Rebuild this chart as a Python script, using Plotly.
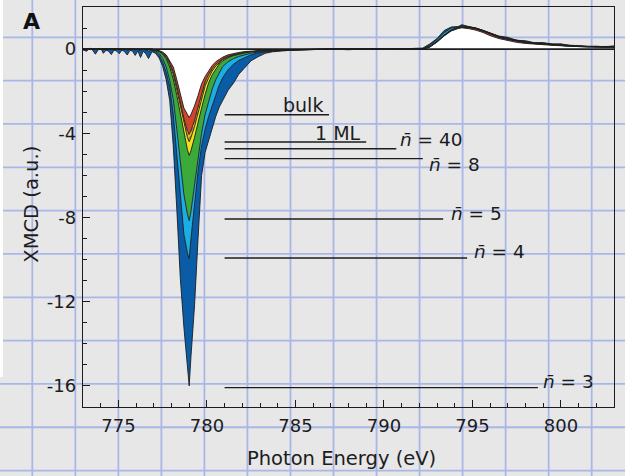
import plotly.graph_objects as go

# ---------------- data ----------------
energy = [773.0, 773.2, 773.4, 773.55, 773.7, 773.85, 774.0, 774.15, 774.3, 774.45,
          774.6, 774.75, 774.9, 775.05, 775.2, 775.35, 775.5, 775.65, 775.8, 775.95,
          776.1, 776.25, 776.4, 776.55, 776.7, 776.9,
          777.1, 777.3, 777.5, 777.7, 777.9, 778.1, 778.3, 778.5, 778.7, 778.9,
          779.0, 779.1, 779.3, 779.5, 779.7, 779.9, 780.1, 780.3, 780.5, 780.7,
          780.9, 781.2, 781.5, 781.8, 782.1, 782.5, 782.9, 783.3, 783.7, 784.2,
          784.8, 785.5, 786.3,
          787.0, 788.0, 789.0, 790.0, 791.0, 791.6, 792.2,
          792.6, 793.0, 793.4, 793.8, 794.2, 794.4, 794.8, 795.2, 795.6, 796.0,
          796.5, 797.0, 797.5, 798.0, 798.5, 799.0, 799.5, 800.0, 800.5, 801.0,
          801.5, 802.0, 802.5, 803.0]

xmcd_bulk = [0, 0, 0, 0, 0, 0, 0, 0, 0, 0, 0, 0, 0, 0, 0, 0, 0, 0, 0, 0, 0, 0, 0, 0, 0, 0,
             -0.03, -0.07, -0.14, -0.27, -0.55, -0.85, -1.45, -2.15, -2.8, -3.1,
             -3.25, -3.1, -2.7, -2.2, -1.65, -1.3, -1.05, -0.78, -0.6, -0.48,
             -0.38, -0.27, -0.2, -0.16, -0.12, -0.09, -0.07, -0.05, -0.04, -0.03,
             -0.02, -0.01, 0.0,
             0, 0, 0, 0, 0, 0, 0,
             0.1, 0.33, 0.62, 0.86, 0.98, 1.01, 0.97, 0.9, 0.79, 0.64,
             0.5, 0.4, 0.32, 0.27, 0.23, 0.2, 0.18, 0.16, 0.13, 0.11,
             0.1, 0.1, 0.09, 0.1]

xmcd_1ml = [0, 0, 0, 0, 0, 0, 0, 0, 0, 0, 0, 0, 0, 0, 0, 0, 0, 0, 0, 0, 0, 0, 0, 0, 0, 0,
            -0.04, -0.09, -0.18, -0.35, -0.66, -1.08, -1.75, -2.5, -3.3, -3.88,
            -4.05, -3.88, -3.4, -2.75, -2.1, -1.55, -1.2, -0.92, -0.72, -0.57,
            -0.46, -0.34, -0.26, -0.2, -0.15, -0.11, -0.08, -0.06, -0.05, -0.04,
            -0.025, -0.012, 0.0,
            0, 0, 0, 0, 0, 0, 0,
            0.11, 0.35, 0.64, 0.88, 1.0, 1.04, 1.02, 0.96, 0.85, 0.71,
            0.56, 0.46, 0.37, 0.31, 0.26, 0.22, 0.2, 0.17, 0.14, 0.12,
            0.11, 0.1, 0.1, 0.1]

xmcd_n40 = [0, 0, 0, 0, 0, 0, 0, 0, 0, 0, 0, 0, 0, 0, 0, 0, 0, 0, 0, 0, 0, 0, 0, 0, 0, 0,
            -0.045, -0.1, -0.2, -0.39, -0.73, -1.2, -1.93, -2.72, -3.55, -4.2,
            -4.4, -4.2, -3.68, -3.0, -2.35, -1.75, -1.36, -1.04, -0.8, -0.63,
            -0.5, -0.37, -0.28, -0.22, -0.17, -0.12, -0.09, -0.07, -0.055, -0.042,
            -0.028, -0.014, 0.0,
            0, 0, 0, 0, 0, 0, 0,
            0.11, 0.35, 0.65, 0.89, 1.01, 1.05, 1.03, 0.97, 0.86, 0.72,
            0.57, 0.47, 0.38, 0.32, 0.27, 0.23, 0.2, 0.17, 0.14, 0.12,
            0.11, 0.1, 0.1, 0.1]

xmcd_n8 = [0, 0, 0, 0, 0, 0, 0, 0, 0, 0, 0, 0, 0, 0, 0, 0, 0, 0, 0, 0, 0, 0, 0, 0, 0, 0,
           -0.05, -0.12, -0.24, -0.46, -0.85, -1.42, -2.2, -3.1, -4.0, -4.78,
           -5.05, -4.82, -4.2, -3.45, -2.8, -2.15, -1.6, -1.22, -0.93, -0.7,
           -0.56, -0.41, -0.31, -0.24, -0.19, -0.13, -0.1, -0.08, -0.06, -0.045,
           -0.03, -0.015, 0.0,
           0, 0, 0, 0, 0, 0, 0,
           0.12, 0.36, 0.66, 0.9, 1.02, 1.06, 1.04, 0.98, 0.87, 0.73,
           0.58, 0.48, 0.39, 0.33, 0.28, 0.24, 0.21, 0.18, 0.15, 0.13,
           0.11, 0.1, 0.1, 0.1]

xmcd_n5 = [0, 0, 0, 0, 0, 0, 0, 0, 0, 0, 0, 0, 0, 0, 0, 0, 0, 0, 0, 0, 0, 0, 0, 0, 0, -0.02,
           -0.08, -0.2, -0.45, -0.85, -1.5, -2.4, -3.8, -5.5, -6.9, -7.85,
           -8.15, -7.7, -6.5, -5.2, -4.0, -3.1, -2.45, -1.9, -1.45, -1.1,
           -0.82, -0.6, -0.45, -0.35, -0.27, -0.19, -0.14, -0.1, -0.08, -0.06,
           -0.04, -0.02, 0.0,
           0, 0, 0, 0, 0, 0, 0,
           0.13, 0.38, 0.68, 0.92, 1.03, 1.07, 1.05, 0.99, 0.88, 0.74,
           0.59, 0.49, 0.4, 0.34, 0.29, 0.25, 0.22, 0.19, 0.16, 0.14,
           0.12, 0.11, 0.1, 0.11]

xmcd_n4 = [0, 0, 0, 0, -0.02, 0, 0, -0.02, 0, 0, -0.03, 0, 0, -0.02, 0, 0, -0.04, 0, 0, -0.05,
           0, -0.07, 0, -0.04, -0.1, -0.05,
           -0.13, -0.3, -0.62, -1.1, -1.8, -3.1, -5.0, -7.3, -8.8, -9.7,
           -9.95, -9.0, -7.4, -5.8, -4.6, -3.8, -3.2, -2.75, -2.2, -1.7,
           -1.35, -0.98, -0.72, -0.54, -0.41, -0.27, -0.18, -0.12, -0.09, -0.06,
           -0.04, -0.02, 0.0,
           0, 0, 0, 0, 0, 0, 0.02,
           0.18, 0.45, 0.78, 1.0, 1.06, 1.1, 1.06, 1.0, 0.89, 0.75,
           0.6, 0.5, 0.42, 0.35, 0.3, 0.27, 0.23, 0.2, 0.17, 0.15,
           0.13, 0.12, 0.11, 0.13]

xmcd_n3 = [-0.04, -0.1, 0.05, -0.06, -0.24, -0.04, 0.04, -0.2, -0.05, -0.1,
           -0.26, -0.05, -0.09, -0.22, -0.04, -0.12, -0.28, -0.06, -0.1, -0.3,
           -0.08, -0.4, -0.1, -0.22, -0.45, -0.12,
           -0.2, -0.42, -0.82, -1.45, -2.45, -4.6, -7.6, -10.9, -13.2, -15.2,
           -16.0, -14.6, -12.2, -9.0, -6.0, -4.9, -4.3, -3.75, -3.2, -2.75,
           -2.4, -1.95, -1.62, -1.2, -0.92, -0.55, -0.36, -0.2, -0.13, -0.08,
           -0.05, -0.03, 0.0,
           0.0, -0.03, 0.02, -0.02, 0.0, 0.03, 0.05,
           0.25, 0.5, 0.88, 1.05, 1.07, 1.16, 1.07, 1.0, 0.89, 0.77,
           0.62, 0.56, 0.42, 0.4, 0.3, 0.31, 0.24, 0.25, 0.17, 0.16,
           0.13, 0.14, 0.11, 0.15]

series_names = ["bulk", "1 ML", "n̄ = 40", "n̄ = 8", "n̄ = 5", "n̄ = 4", "n̄ = 3"]
series_values = [xmcd_bulk, xmcd_1ml, xmcd_n40, xmcd_n8, xmcd_n5, xmcd_n4, xmcd_n3]

# label guide lines: level, line end and text placement
label_levels = [-3.12, -4.41, -4.73, -5.2, -8.07, -9.92, -16.08]
label_texts = ["bulk", "1 ML", "<i>n\u0304</i> = 40", "<i>n\u0304</i> = 8",
               "<i>n\u0304</i> = 5", "<i>n\u0304</i> = 4", "<i>n\u0304</i> = 3"]

x_tick_vals = [775, 780, 785, 790, 795, 800]
x_tick_text = ["775", "780", "785", "790", "795", "800"]
y_tick_vals = [-16, -12, -8, -4, 0]
y_tick_text = ["-16", "-12", "-8", "-4", "0"]

for s in series_values:
    assert len(s) == len(energy)

# ---------------- styling ----------------
FONT = "DejaVu Sans, Liberation Sans, Arial, sans-serif"
INK = "#1c1c1c"
W, H = 625, 476
L, R, T, B = 83, 11, 7, 69
PW, PH = W - L - R, H - T - B


def pxx(px):
    return (px - L) / PW


def pxy(py):
    return (H - B - py) / PH


fills = [
    dict(fill="tozeroy", fillcolor="white"),
    dict(fill="tonexty", fillcolor="#d2442b"),
    dict(fill="tonexty", fillcolor="#e2b01e",
         fillpattern=dict(shape="/", bgcolor="#e9c21f", fgcolor="#2a2a2a", size=4, solidity=0.35)),
    dict(fill="tonexty", fillcolor="#f3e01f"),
    dict(fill="tonexty", fillcolor="#3caa3a"),
    dict(fill="tonexty", fillcolor="#19aee4"),
    dict(fill="tonexty", fillcolor="#0b5ca6"),
]

fig = go.Figure()
for name, vals, f in zip(series_names, series_values, fills):
    fig.add_trace(go.Scatter(x=energy, y=vals, mode="lines", name=name,
                             line=dict(color=INK, width=0.9), showlegend=False,
                             hoverinfo="skip", **f))

shapes = []
# graph-paper background
for k in range(14):
    xp = pxx(32.3 + 43.03 * k)
    shapes.append(dict(type="line", xref="paper", yref="paper", x0=xp, x1=xp,
                       y0=pxy(H), y1=pxy(0), layer="below",
                       line=dict(color="#a9b7e7", width=1.8)))
for k in range(11):
    yp = pxy(37.3 + 43.33 * k)
    shapes.append(dict(type="line", xref="paper", yref="paper", x0=pxx(0), x1=pxx(W),
                       y0=yp, y1=yp, layer="below",
                       line=dict(color="#a9b7e7", width=1.8)))
shapes.append(dict(type="rect", xref="paper", yref="paper", x0=pxx(0), x1=pxx(3),
                   y0=pxy(377), y1=pxy(0), layer="below", fillcolor="white", line=dict(width=0)))
# zero line
shapes.append(dict(type="line", xref="paper", yref="y", x0=0, x1=1, y0=0, y1=0,
                   layer="above", line=dict(color=INK, width=1.8)))

# label lines and texts
line_start = 781.0
line_ends = [786.9, 789.0, 790.7, 792.2, 793.35, 794.7, 798.7]
text_pos = [(785.44, -2.65, "center"), (787.42, -3.97, "center"), (790.8, -4.3, "left"),
            (792.46, -5.49, "left"), (793.65, -7.82, "left"), (794.95, -9.62, "left"),
            (798.86, -15.78, "left")]
text_sizes = [19, 19, 18.5, 18.5, 18.5, 18.5, 18.5]
annotations = []
for lvl, x1, (tx, ty, anc), txt, fs in zip(label_levels, line_ends, text_pos, label_texts,
                                           text_sizes):
    shapes.append(dict(type="line", xref="x", yref="y", x0=line_start, x1=x1, y0=lvl, y1=lvl,
                       layer="above", line=dict(color=INK, width=1.4)))
    annotations.append(dict(x=tx, y=ty, xref="x", yref="y", text=txt, showarrow=False,
                            xanchor=anc, yanchor="middle",
                            font=dict(family=FONT, size=fs, color=INK)))

annotations.append(dict(x=pxx(31), y=pxy(22), xref="paper", yref="paper", text="<b>A</b>",
                        showarrow=False, xanchor="center", yanchor="middle",
                        font=dict(family=FONT, size=22, color="#111")))
annotations.append(dict(x=pxx(341.7), y=pxy(459), xref="paper", yref="paper",
                        text="Photon Energy (eV)", showarrow=False, xanchor="center",
                        yanchor="middle", font=dict(family=FONT, size=19.5, color=INK)))
annotations.append(dict(x=pxx(30.7), y=pxy(204), xref="paper", yref="paper",
                        text="XMCD (a.u.)", textangle=-90, showarrow=False, xanchor="center",
                        yanchor="middle", font=dict(family=FONT, size=19.5, color=INK)))

fig.update_layout(
    width=W, height=H,
    margin=dict(l=L, r=R, t=T, b=B),
    paper_bgcolor="#e7e7e8",
    plot_bgcolor="rgba(0,0,0,0)",
    shapes=shapes,
    annotations=annotations,
    showlegend=False,
    xaxis=dict(range=[773, 803], tickmode="array", tickvals=x_tick_vals, ticktext=x_tick_text,
               ticks="inside", ticklen=7, tickwidth=1.2, tickcolor=INK,
               showline=True, linecolor=INK, linewidth=1.3, mirror=True,
               showgrid=False, zeroline=False, ticklabelstandoff=2,
               minor=dict(ticks="inside", ticklen=4, tickwidth=1, tickcolor=INK,
                          dtick=1, tick0=773, showgrid=False),
               tickfont=dict(family=FONT, size=18, color=INK)),
    yaxis=dict(range=[-17, 2], tickmode="array", tickvals=y_tick_vals, ticktext=y_tick_text,
               ticks="inside", ticklen=7, tickwidth=1.2, tickcolor=INK,
               showline=True, linecolor=INK, linewidth=1.3, mirror=True,
               showgrid=False, zeroline=False, ticklabelstandoff=2,
               minor=dict(ticks="inside", ticklen=4, tickwidth=1, tickcolor=INK,
                          dtick=1, tick0=0, showgrid=False),
               tickfont=dict(family=FONT, size=18, color=INK)),
)

fig.write_html("out.html", config={"displayModeBar": False},
               post_script="document.body.style.margin='0px';document.body.style.overflow='hidden';")
